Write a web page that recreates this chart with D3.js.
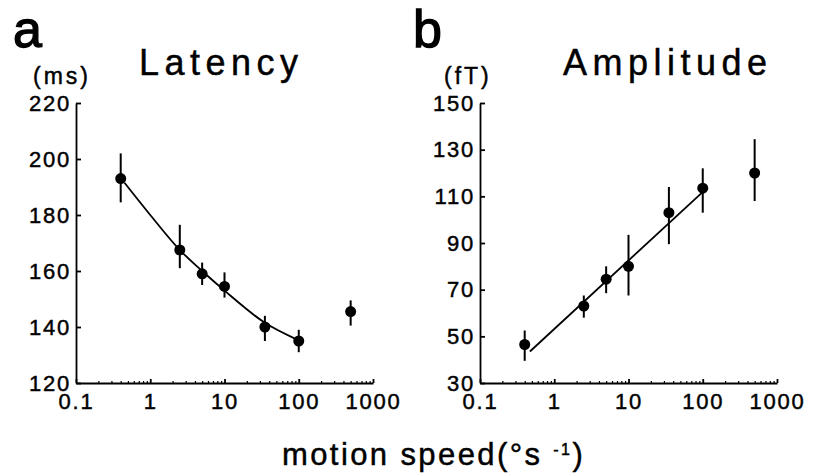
<!DOCTYPE html>
<html>
<head>
<meta charset="utf-8">
<script src="https://cdn.jsdelivr.net/npm/d3@7"></script>
<style>
  body { margin: 0; background: #fff; }
  svg { display: block; font-family: "Liberation Sans", Arial, sans-serif; }
  svg text { stroke: #000; stroke-width: 0.45; }
  .axis path, .axis line { stroke: #000; stroke-width: 1.8; }
  .axis text { font-size: 22px; letter-spacing: 1.8px; fill: #000; font-family: "Liberation Sans", Arial, sans-serif; }
  .minor path { display: none; }
  .minor line { stroke: #000; stroke-width: 1.2; }
</style>
</head>
<body>
<svg width="822" height="476"></svg>
<script>
// speeds in deg/s
var speeds = [0.4, 2.5, 5, 10, 35, 100, 500];

var latency   = [193, 167.5, 159, 154.5, 140, 135, 145.5];
var latencyHi = [202, 176.5, 163, 159.5, 144, 139, 149.5];
var latencyLo = [184.5, 161, 155, 150.5, 135, 131, 140.5];
var latencyFitX = [0.45, 1, 2.5, 5, 10, 35, 95];
var latencyFitY = [191.5, 180, 167.5, 160, 153, 141.5, 135.5];

var amplitude = [46.5, 63, 74.5, 80, 103, 113.5, 120];
var ampHi     = [52.5, 67.5, 80, 93.5, 114, 122, 134.5];
var ampLo     = [39.5, 58, 68.5, 67.5, 89.5, 103, 108];
var ampFitX = [0.47, 97];
var ampFitY = [43.5, 111.5];

var xTicks = [0.1, 1, 10, 100, 1000];
var latTicks = [120, 140, 160, 180, 200, 220];
var ampTicks = [30, 50, 70, 90, 110, 130, 150];

var svg = d3.select("svg");

function panel(opt) {
    var x = d3.scaleLog().domain([0.1, 1000]).range([opt.left, opt.left + 297]);
    var y = d3.scaleLinear().domain(opt.yDomain).range([383, 103]);

    var minor = [];
    [0.1, 1, 10, 100].forEach(function (d) {
        for (var k = 2; k <= 9; k++) minor.push(d * k);
    });
    svg.append("g").attr("class", "minor").attr("transform", "translate(0,383)")
        .call(d3.axisBottom(x).tickValues(minor).tickSize(-2).tickFormat(""));

    svg.append("g").attr("class", "axis").attr("transform", "translate(0,383)")
        .call(d3.axisBottom(x).tickValues(xTicks).tickSize(-4).tickSizeOuter(0)
            .tickPadding(10).tickFormat(function (d) { return String(d); }));

    svg.append("g").attr("class", "axis").attr("transform", "translate(" + opt.left + ",0)")
        .call(d3.axisLeft(y).tickValues(opt.yTicks).tickSize(-5).tickSizeOuter(0).tickPadding(5));

    var g = svg.append("g");
    var line = d3.line().x(function (d) { return x(d[0]); }).y(function (d) { return y(d[1]); })
        .curve(d3.curveMonotoneX);
    g.append("path").datum(d3.zip(opt.fitX, opt.fitY)).attr("d", line)
        .attr("fill", "none").attr("stroke", "#000").attr("stroke-width", 1.8);

    g.selectAll("line.err").data(speeds).enter().append("line").attr("class", "err")
        .attr("x1", function (d) { return x(d); }).attr("x2", function (d) { return x(d); })
        .attr("y1", function (d, i) { return y(opt.hi[i]); })
        .attr("y2", function (d, i) { return y(opt.lo[i]); })
        .attr("stroke", "#000").attr("stroke-width", 2);

    g.selectAll("circle").data(speeds).enter().append("circle")
        .attr("cx", function (d) { return x(d); })
        .attr("cy", function (d, i) { return y(opt.vals[i]); })
        .attr("r", 5.5).attr("fill", "#000");

    svg.append("text").attr("x", opt.letterX).attr("y", 47).attr("font-size", 52)
        .style("stroke-width", 1.3).text(opt.letter);
    svg.append("text").attr("x", opt.titleX).attr("y", 75).attr("font-size", 36)
        .attr("letter-spacing", 5.5).text(opt.title);
    svg.append("text").attr("x", opt.unitX).attr("y", 84).attr("font-size", 23)
        .attr("letter-spacing", 3).text(opt.unit);
}

panel({
    left: 76, yDomain: [120, 220], yTicks: latTicks,
    vals: latency, hi: latencyHi, lo: latencyLo, fitX: latencyFitX, fitY: latencyFitY,
    letter: "a", letterX: 13, title: "Latency", titleX: 139, unit: "(ms)", unitX: 33
});
panel({
    left: 480, yDomain: [30, 150], yTicks: ampTicks,
    vals: amplitude, hi: ampHi, lo: ampLo, fitX: ampFitX, fitY: ampFitY,
    letter: "b", letterX: 413, title: "Amplitude", titleX: 563, unit: "(fT)", unitX: 444
});

var xl = svg.append("text").attr("x", 282).attr("y", 465).attr("font-size", 31).attr("letter-spacing", 2.4);
xl.append("tspan").text("motion speed(°s ");
xl.append("tspan").attr("font-size", 16).attr("dy", -10).text("-1");
xl.append("tspan").attr("dy", 10).text(")");
</script>
</body>
</html>
